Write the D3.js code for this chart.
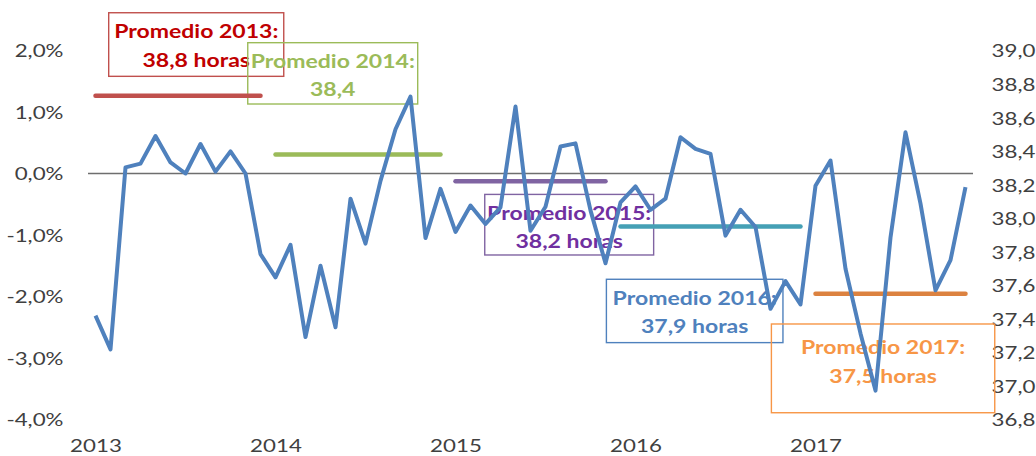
<!DOCTYPE html>
<html>
<head>
<meta charset="utf-8">
<script src="https://cdn.jsdelivr.net/npm/d3@7"></script>
<style>
  body { margin: 0; background: #fff; }
  svg { display: block; }
</style>
</head>
<body>
<svg id="chart" width="1036" height="456"></svg>
<script>
// years and months of the category axis
const years = [2013, 2014, 2015, 2016, 2017];
const monthNums = ["01", "02", "03", "04", "05", "06", "07", "08", "09", "10", "11", "12"];
const months = years.flatMap(y => monthNums.map(m => `${y}-${m}`)).slice(0, 59);

// monthly variation, % (left axis)
const variation = [
    -2.31, -2.86, 0.10, 0.16, 0.61, 0.18, 0.00, 0.48, 0.03, 0.36, 0.00, -1.31,
    -1.69, -1.16, -2.66, -1.50, -2.50, -0.41, -1.14, -0.12, 0.72, 1.25, -1.05, -0.25,
    -0.95, -0.52, -0.82, -0.55, 1.09, -0.93, -0.54, 0.44, 0.49, -0.60, -1.46, -0.47,
    -0.21, -0.59, -0.41, 0.59, 0.40, 0.32, -1.01, -0.59, -0.87, -2.20, -1.75, -2.13,
    -0.20, 0.21, -1.55, -2.60, -3.53, -1.04, 0.67, -0.49, -1.90, -1.41, -0.22
];

// yearly averages, hours (right axis)
const avgYears = ["2013", "2014", "2015", "2016", "2017"];
const avgHours = [38.73, 38.38, 38.22, 37.95, 37.55];
const avgFrom = ["2013-01", "2014-01", "2015-01", "2015-12", "2017-01"];
const avgTo = ["2013-12", "2014-12", "2015-11", "2016-12", "2017-11"];
const noteTitles = ["Promedio 2013:", "Promedio 2014:", "Promedio 2015:", "Promedio 2016:", "Promedio 2017:"];
const noteValues = ["38,8 horas", "38,4", "38,2 horas", "37,9 horas", "37,5 horas"];

// tick values
const leftTicks = [-4, -3, -2, -1, 0, 1, 2];
const rightTicks = [36.8, 37.0, 37.2, 37.4, 37.6, 37.8, 38.0, 38.2, 38.4, 38.6, 38.8, 39.0];
const yearTicks = ["2013-01", "2014-01", "2015-01", "2016-01", "2017-01"];

// styles
const lineColors = ["#C0504D", "#9BBB59", "#8064A2", "#45A0B5", "#DC8240"];
const textColors = ["#C00000", "#9BBB59", "#7030A0", "#4F81BD", "#F79646"];
const boxColors = ["#C0504D", "#9BBB59", "#8064A2", "#4F81BD", "#F79646"];
// note boxes, placed in category index / left axis units: [x0, x1, yTop, yBottom, line1 dy, line2 dy]
const noteBoxes = [
    [0.88, 12.55, 2.614, 1.58, 19, 48],
    [10.15, 21.48, 2.127, 1.13, 19, 47],
    [25.95, 37.21, -0.34, -1.325, 19, 47],
    [34.06, 45.83, -1.72, -2.75, 19, 47],
    [45.06, 59.95, -2.447, -3.89, 24, 53]
];

const tickStretch = 1.24;
const noteStretch = 1.28;
const fontFamily = "Lato, 'Open Sans', sans-serif";

const svg = d3.select("#chart");
const plot = { left: 88, right: 973, top: 50.5, bottom: 419.5 };

const x = d3.scalePoint()
    .domain(months)
    .range([plot.left, plot.right])
    .padding(0.5);

const idx = d3.scaleLinear()
    .domain([0, months.length - 1])
    .range([x(months[0]), x(months[months.length - 1])]);

const yLeft = d3.scaleLinear().domain([-4, 2]).range([plot.bottom, plot.top]);
const yRight = d3.scaleLinear().domain([36.8, 39.0]).range([plot.bottom, plot.top]);

const locale = d3.formatLocale({ decimal: ",", thousands: ".", grouping: [3], currency: ["", "€"], minus: "-" });
const fmt1 = locale.format(".1f");

function styleTicks(sel) {
    sel.attr("transform", `scale(${tickStretch},1)`)
        .attr("font-family", fontFamily)
        .attr("font-size", 18)
        .attr("fill", "#404040");
}

// left axis labels
const gLeft = svg.append("g")
    .attr("transform", `translate(63.5,0)`)
    .call(d3.axisLeft(yLeft).tickValues(leftTicks).tickSize(0).tickFormat(d => fmt1(d) + "%"));
gLeft.select(".domain").remove();
gLeft.selectAll("text").attr("x", 0).attr("dy", "0.36em").call(styleTicks);

// right axis labels
const gRight = svg.append("g")
    .attr("transform", `translate(991.5,0)`)
    .call(d3.axisRight(yRight).tickValues(rightTicks).tickSize(0).tickFormat(fmt1));
gRight.select(".domain").remove();
gRight.selectAll("text").attr("x", 0).attr("dy", "0.36em").call(styleTicks);

// year labels under the plot
const gX = svg.append("g")
    .attr("transform", `translate(0,452)`)
    .call(d3.axisBottom(x).tickValues(yearTicks).tickSize(0).tickFormat(d => d.slice(0, 4)));
gX.select(".domain").remove();
gX.selectAll(".tick text").attr("y", 0).attr("dy", 0).call(styleTicks);

// zero line
svg.append("line")
    .attr("x1", plot.left)
    .attr("x2", plot.right)
    .attr("y1", yLeft(0))
    .attr("y2", yLeft(0))
    .attr("stroke", "#6e6e6e")
    .attr("stroke-width", 1.3);

// note boxes
noteBoxes.forEach((b, i) => {
    const x0 = idx(b[0]), x1 = idx(b[1]);
    const y0 = yLeft(b[2]), y1 = yLeft(b[3]);
    const g = svg.append("g");
    g.append("rect")
        .attr("x", x0)
        .attr("y", y0)
        .attr("width", x1 - x0)
        .attr("height", y1 - y0)
        .attr("fill", "none")
        .attr("stroke", boxColors[i])
        .attr("stroke-width", 1.4);
    [noteTitles[i], noteValues[i]].forEach((t, j) => {
        g.append("text")
            .attr("transform", `translate(${(x0 + x1) / 2},${y0 + b[4 + j]}) scale(${noteStretch},1)`)
            .attr("text-anchor", "middle")
            .attr("dy", "0.36em")
            .attr("font-family", fontFamily)
            .attr("font-weight", "bold")
            .attr("font-size", 18)
            .attr("fill", textColors[i])
            .text(t);
    });
});

// yearly average lines
avgHours.forEach((v, i) => {
    svg.append("line")
        .attr("x1", x(avgFrom[i]))
        .attr("x2", x(avgTo[i]))
        .attr("y1", yRight(v))
        .attr("y2", yRight(v))
        .attr("stroke", lineColors[i])
        .attr("stroke-width", 4.5)
        .attr("stroke-linecap", "round");
});

// monthly variation line
const line = d3.line()
    .x((d, i) => x(months[i]))
    .y(d => yLeft(d));

svg.append("path")
    .datum(variation)
    .attr("fill", "none")
    .attr("stroke", "#4F81BD")
    .attr("stroke-width", 4)
    .attr("stroke-linejoin", "round")
    .attr("d", line);
</script>
</body>
</html>
